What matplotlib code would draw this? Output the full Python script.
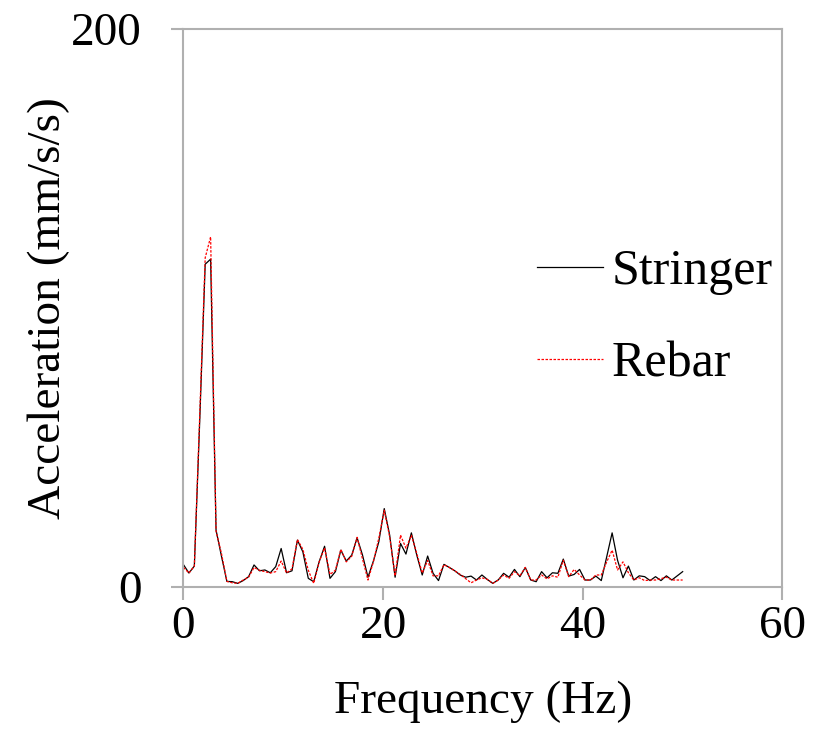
import numpy as np
import matplotlib.pyplot as plt

plt.rcParams['font.family'] = ['Liberation Serif', 'DejaVu Serif']

# ── data ─────────────────────────────────────────────────────────────────────
df = 50.0 / 92                       # frequency step (Hz)
freq = np.arange(93) * df

stringer = [
    8.0, 5.0, 7.5, 60.0, 115.7, 117.5, 20.4, 11.0, 2.0, 1.9,
    1.3, 2.3, 3.7, 7.9, 5.8, 6.1, 5.1, 7.3, 13.8, 5.1,
    5.8, 16.8, 12.6, 3.1, 1.9, 9.0, 14.6, 3.1, 5.5, 13.2,
    9.3, 11.4, 17.6, 11.4, 3.5, 9.3, 16.2, 28.1, 18.6, 3.5,
    15.6, 11.8, 19.4, 11.4, 4.3, 11.1, 4.9, 2.3, 8.1, 7.0,
    5.8, 4.3, 3.5, 3.9, 2.5, 4.3, 2.7, 1.3, 2.5, 4.9,
    3.5, 6.3, 3.7, 7.0, 2.5, 1.9, 5.5, 3.3, 5.1, 4.9,
    10.0, 3.9, 4.5, 6.3, 2.5, 2.5, 3.9, 2.3, 10.8, 19.4,
    9.6, 3.3, 7.5, 2.5, 4.0, 3.7, 2.3, 3.7, 2.3, 4.0,
    2.5, 4.0, 5.5,
]

rebar = [
    7.0, 5.0, 7.5, 62.0, 118.0, 125.5, 20.0, 12.0, 2.0, 1.5,
    1.3, 2.5, 3.5, 7.0, 6.0, 5.5, 5.0, 5.5, 9.3, 5.0,
    6.5, 17.0, 13.5, 6.0, 1.3, 9.0, 14.0, 4.5, 6.0, 13.5,
    9.0, 11.0, 17.8, 10.0, 2.5, 9.0, 17.5, 27.5, 18.0, 4.0,
    18.6, 13.9, 18.5, 12.0, 5.0, 9.5, 4.0, 4.0, 8.0, 7.0,
    5.8, 4.5, 3.0, 1.5, 2.5, 3.3, 2.7, 1.3, 2.5, 4.3,
    3.1, 5.5, 4.0, 7.0, 2.5, 2.5, 4.3, 2.9, 4.0, 3.5,
    9.6, 3.7, 6.3, 4.3, 2.5, 2.5, 4.3, 4.3, 9.0, 13.2,
    6.1, 9.0, 5.1, 2.5, 3.3, 2.3, 2.5, 2.5, 3.0, 3.5,
    2.5, 2.5, 2.5,
]

x_ticks = [0, 20, 40, 60]
y_ticks = [0, 200]

# ── figure ───────────────────────────────────────────────────────────────────
fig = plt.figure(figsize=(8.21, 7.30), dpi=100)
ax = fig.add_axes([0.2235, 0.1959, 0.7296, 0.7644])

ax.plot(freq, stringer, color='black', lw=0.9, label='Stringer')
ax.plot(freq, rebar, color='#ff0000', lw=0.9, ls=(0, (2, 1.2)), label='Rebar')

ax.set_xlim(0, 60)
ax.set_ylim(0, 200)
ax.set_xticks(x_ticks)
ax.set_yticks(y_ticks)

grey = '#b0b0b0'
for s in ax.spines.values():
    s.set_color(grey)
    s.set_linewidth(1.5)
ax.tick_params(axis='both', colors=grey, length=9, width=1.5, direction='out',
               labelsize=34, labelcolor='black')
ax.tick_params(axis='y', pad=21)
ax.tick_params(axis='x', pad=4)

ax.set_xlabel('Frequency (Hz)', fontsize=34, labelpad=24)
ax.set_ylabel('Acceleration (mm/s/s)', fontsize=34, labelpad=1)

ax.legend(loc='center left', bbox_to_anchor=(0.590, 0.482), frameon=False,
          fontsize=36, handlelength=1.32, handletextpad=0.18,
          labelspacing=0.92, borderpad=0, borderaxespad=0)

fig.savefig('out.png', dpi=100)
